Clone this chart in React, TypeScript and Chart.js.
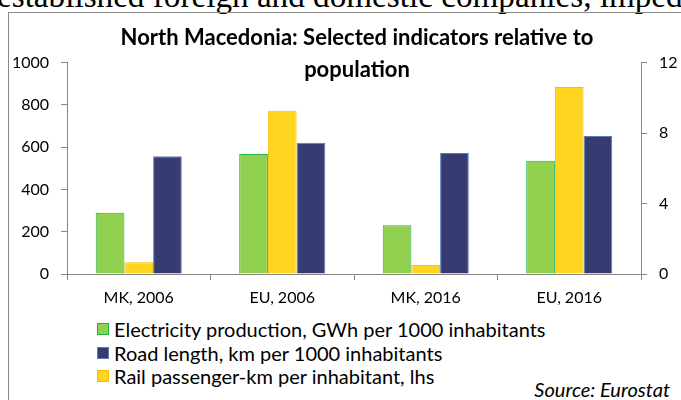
import React, { useEffect, useRef } from "react";
import { Chart, registerables } from "chart.js";
Chart.register(...registerables);

// ---- data ----
const categories = ["MK, 2006", "EU, 2006", "MK, 2016", "EU, 2016"];
const electricity = [3.48, 6.81, 2.76, 6.43]; // GWh per 1000 inhabitants (rhs)
const rail = [55, 772, 43, 884]; // passenger-km per inhabitant (lhs)
const road = [6.68, 7.45, 6.87, 7.83]; // km per 1000 inhabitants (rhs)
const leftTicks = [0, 200, 400, 600, 800, 1000];
const rightTicks = [0, 4, 8, 12];
const titleLines = ["North Macedonia: Selected indicators relative to", "population"];
const sourceText = "Source: Eurostat";
const bodyText = "established foreign and domestic companies, imped";

// ---- styles ----
const FONT = "Lato, 'Noto Sans', sans-serif";
const AXIS = "#868686";
const series = [
  { label: "Electricity production, GWh per 1000 inhabitants", data: electricity, axis: "y1", fill: "#92D050", border: "#1FAF4B" },
  { label: "Rail passenger-km per inhabitant, lhs", data: rail, axis: "y", fill: "#FFD520", border: "#F5C000" },
  { label: "Road length, km per 1000 inhabitants", data: road, axis: "y1", fill: "#363C72", border: "#5B7DB5" },
];
const legendOrder = [0, 2, 1];

export default function App() {
  const ref = useRef<HTMLCanvasElement>(null);
  useEffect(() => {
    const chart = new Chart(ref.current!, {
      type: "bar",
      data: {
        labels: categories,
        datasets: series.map((s) => ({
          label: s.label,
          data: s.data,
          yAxisID: s.axis,
          backgroundColor: s.fill,
          borderColor: s.border,
          borderWidth: 1,
          categoryPercentage: 0.6,
          barPercentage: 1,
        })),
      },
      options: {
        responsive: false,
        animation: false,
        devicePixelRatio: 1,
        layout: { padding: { top: 49.5, left: 0, right: 0, bottom: 0 } },
        plugins: { legend: { display: false }, title: { display: false }, tooltip: { enabled: false } },
        scales: {
          x: {
            grid: { display: true, drawOnChartArea: false, drawTicks: true, tickLength: 6, color: AXIS, offset: true },
            border: { display: true, color: AXIS },
            ticks: { color: "#000", font: { family: FONT, size: 16 }, padding: 8, maxRotation: 0 },
            afterFit: (s: any) => { s.height = 39; },
          },
          y: {
            position: "left",
            min: 0,
            max: 1000,
            afterBuildTicks: (s: any) => { s.ticks = leftTicks.map((v) => ({ value: v })); },
            grid: { display: true, drawOnChartArea: false, drawTicks: true, tickLength: 6, color: AXIS },
            border: { display: true, color: AXIS },
            ticks: { color: "#000", font: { family: FONT, size: 16 }, padding: 12, callback: (v: any) => String(v) },
            afterFit: (s: any) => { s.width = 58; },
          },
          y1: {
            position: "right",
            min: 0,
            max: 12,
            afterBuildTicks: (s: any) => { s.ticks = rightTicks.map((v) => ({ value: v })); },
            grid: { display: true, drawOnChartArea: false, drawTicks: true, tickLength: 6, color: AXIS },
            border: { display: true, color: AXIS },
            ticks: { color: "#000", font: { family: FONT, size: 16 }, padding: 12, callback: (v: any) => String(v) },
            afterFit: (s: any) => { s.width = 40; },
          },
        },
      },
    } as any);
    return () => chart.destroy();
  }, []);

  return (
    <div style={{ position: "absolute", left: 0, top: 0, width: 681, height: 400, overflow: "hidden", background: "#fff" }}>
      <div
        style={{
          position: "absolute",
          left: -3,
          top: -24,
          whiteSpace: "nowrap",
          fontFamily: "'Liberation Serif', serif",
          fontSize: 33.2,
          lineHeight: "40px",
          color: "#000",
        }}
      >
        {bodyText}
      </div>
      <div style={{ position: "absolute", left: 8, top: 12, width: 720, height: 420, border: "1px solid #8a8a8a", boxSizing: "border-box" }} />
      <canvas ref={ref} width={672} height={300} style={{ position: "absolute", left: 9, top: 13, width: 672, height: 300 }} />
      <div
        style={{
          position: "absolute",
          left: 0,
          width: 714,
          top: 21,
          textAlign: "center",
          fontFamily: FONT,
          fontWeight: 700,
          fontSize: 22,
          lineHeight: "32px",
          color: "#000",
          whiteSpace: "nowrap",
        }}
      >
        {titleLines.map((t, i) => (
          <div key={i}>{t}</div>
        ))}
      </div>
      <div style={{ position: "absolute", left: 97, top: 317.5, fontFamily: FONT, fontSize: 20, color: "#000" }}>
        {legendOrder.map((idx) => {
          const s = series[idx];
          return (
            <div key={idx} style={{ display: "flex", alignItems: "center", height: 23.5, whiteSpace: "nowrap" }}>
              <span
                style={{
                  display: "inline-block",
                  width: 12,
                  height: 12,
                  boxSizing: "border-box",
                  background: s.fill,
                  border: `1px solid ${s.border}`,
                  marginRight: 5,
                }}
              />
              <span>{s.label}</span>
            </div>
          );
        })}
      </div>
      <div
        style={{
          position: "absolute",
          right: 11,
          top: 379,
          fontFamily: FONT,
          fontStyle: "italic",
          fontSize: 20,
          lineHeight: "20px",
          color: "#000",
          whiteSpace: "nowrap",
        }}
      >
        {sourceText}
      </div>
    </div>
  );
}
